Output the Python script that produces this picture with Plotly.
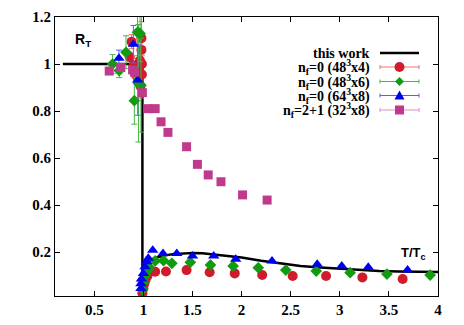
import plotly.graph_objects as go

# ---- data ----
line_x = [0.18, 0.99, 0.99, 0.995, 1.0, 1.01, 1.03, 1.06, 1.1, 1.2, 1.3, 1.4, 1.5, 1.6, 1.7, 1.8,
          2.0, 2.2, 2.4, 2.6, 2.8, 3.0, 3.2, 3.4, 3.6, 3.8, 4.0]
line_y = [1.0, 1.0, 0.01, 0.04, 0.08, 0.12, 0.145, 0.16, 0.172, 0.184, 0.191, 0.195, 0.196, 0.195,
          0.191, 0.186, 0.177, 0.163, 0.150, 0.140, 0.134, 0.128, 0.123, 0.119, 0.117, 0.116, 0.115]

red_x = [0.86, 0.88, 0.90, 0.93, 0.95, 0.965, 0.97, 0.98, 0.98, 0.985, 0.985,
         0.99, 1.0, 1.01, 1.02, 1.04, 1.12, 1.23, 1.44, 1.675, 1.93, 2.21, 2.52, 2.86, 3.23, 3.64]
red_y = [1.03, 1.095, 0.995, 0.95, 0.975, 1.015, 0.905, 1.11, 1.06, 1.0, 0.955,
         0.025, 0.045, 0.065, 0.08, 0.097, 0.116, 0.117, 0.123, 0.114, 0.109, 0.102, 0.098, 0.098, 0.092, 0.085]
red_e = [0.02, 0.03, 0.03, 0.02, 0.03, 0.04, 0.05, 0.15, 0.12, 0.1, 0.08,
         0.005, 0.005, 0.005, 0.005, 0.005, 0.004, 0.004, 0.004, 0.003, 0.003, 0.003, 0.003, 0.003, 0.003, 0.003]

green_x = [0.686, 0.754, 0.823, 0.908, 0.94, 0.95, 0.966, 0.975,
           0.99, 1.0, 1.02, 1.04, 1.06, 1.12, 1.205, 1.29, 1.478, 1.683, 1.914, 2.17, 2.45, 2.76, 3.105, 3.48, 3.92]
green_y = [1.0, 0.972, 1.05, 0.844, 1.135, 0.918, 1.13, 0.91,
           0.04, 0.07, 0.10, 0.12, 0.135, 0.162, 0.163, 0.152, 0.156, 0.145, 0.140, 0.133, 0.123, 0.119, 0.112, 0.106, 0.102]
green_e = [0.04, 0.03, 0.07, 0.1, 0.1, 0.25, 0.12, 0.2,
           0.005, 0.005, 0.005, 0.005, 0.005, 0.004, 0.004, 0.004, 0.004, 0.003, 0.003, 0.003, 0.003, 0.003, 0.003, 0.003, 0.003]

blue_x = [0.751, 0.898, 0.942,
          0.975, 0.975, 0.98, 1.0, 1.017, 1.034, 1.05, 1.095, 1.2, 1.34, 1.5, 1.716, 1.94, 2.31, 2.77, 3.02, 3.29, 3.69]
blue_y = [1.024, 1.084, 0.932,
          0.045, 0.065, 0.085, 0.109, 0.137, 0.159, 0.173, 0.207, 0.194, 0.194, 0.183, 0.183, 0.169, 0.162, 0.148, 0.140, 0.135, 0.123]
blue_e = [0.035, 0.08, 0.15,
          0.005, 0.005, 0.005, 0.005, 0.005, 0.005, 0.005, 0.004, 0.004, 0.004, 0.004, 0.003, 0.003, 0.003, 0.003, 0.003, 0.003, 0.003]

mag_x = [0.652, 0.77, 0.89, 0.91, 0.99, 1.046, 1.12, 1.18, 1.25, 1.44, 1.55, 1.66, 1.79, 2.01, 2.26]
mag_y = [0.970, 0.985, 0.975, 0.965, 0.878, 0.81, 0.81, 0.754, 0.709, 0.648, 0.573, 0.528, 0.499, 0.443, 0.421]
mag_e = [0.01] * len(mag_x)

x_ticks = [0.5, 1, 1.5, 2, 2.5, 3, 3.5, 4]
y_ticks = [0.2, 0.4, 0.6, 0.8, 1.0, 1.2]

legend_labels = ["this work",
                 "n<sub>f</sub>=0 (48<sup>3</sup>x4)",
                 "n<sub>f</sub>=0 (48<sup>3</sup>x6)",
                 "n<sub>f</sub>=0 (64<sup>3</sup>x8)",
                 "n<sub>f</sub>=2+1 (32<sup>3</sup>x8)"]

# ---- styles ----
RED, RED_E = "#d01c2a", "#e87070"
GREEN, GREEN_E = "#139a13", "#44b844"
BLUE, BLUE_E = "#0000f0", "#5a5aff"
MAG, MAG_E = "#c03a8c", "#dc90c0"

fig = go.Figure()
fig.add_trace(go.Scatter(x=line_x, y=line_y, mode="lines", line=dict(color="black", width=2.5),
                         showlegend=False))

def pts(x, y, e, color, ecolor, symbol, size):
    return go.Scatter(x=x, y=y, mode="markers",
                      marker=dict(color=color, symbol=symbol, size=size, line=dict(width=0)),
                      error_y=dict(type="data", array=e, color=ecolor, thickness=1, width=3),
                      showlegend=False, cliponaxis=True)

fig.add_trace(pts(red_x, red_y, red_e, RED, RED_E, "circle", 10))
fig.add_trace(pts(green_x, green_y, green_e, GREEN, GREEN_E, "diamond", 9))
fig.add_trace(pts(blue_x, blue_y, blue_e, BLUE, BLUE_E, "triangle-up", 10))
fig.add_trace(pts(mag_x, mag_y, mag_e, MAG, MAG_E, "square", 9))

# ---- layout geometry ----
W, H = 464, 325
L, R, T, B = 55, 26, 17, 29
pw, ph = W - L - R, H - T - B

def px(xpix):
    return (xpix - L) / pw

def py(ypix):
    return (H - B - ypix) / ph

tickfont = dict(family="Liberation Serif", size=15, color="black", weight="bold")

fig.update_layout(
    width=W, height=H, margin=dict(l=L, r=R, t=T, b=B, autoexpand=False),
    paper_bgcolor="white", plot_bgcolor="white",
    xaxis=dict(range=[0.1, 4], tickvals=x_ticks, ticks="inside", ticklen=5, tickcolor="black",
               showline=True, linecolor="black", linewidth=1, mirror="ticks", automargin=False,
               showgrid=False, zeroline=False, tickfont=tickfont),
    yaxis=dict(range=[0.0128, 1.2], tickvals=y_ticks, ticks="inside", ticklen=5, tickcolor="black",
               showline=True, linecolor="black", linewidth=1, mirror="ticks", automargin=False,
               showgrid=False, zeroline=False, tickfont=tickfont),
    showlegend=False,
)

annots = []
shapes = []
annots.append(dict(text="R<sub>T</sub>", x=px(73), y=py(40), xref="paper", yref="paper",
                   xanchor="left", yanchor="middle", showarrow=False,
                   font=dict(family="Liberation Sans", size=14, color="black", weight="bold")))
annots.append(dict(text="T/T<sub>c</sub>", x=px(399), y=py(253), xref="paper", yref="paper",
                   xanchor="left", yanchor="middle", showarrow=False,
                   font=dict(family="Liberation Sans", size=13, color="black", weight="bold")))

rows = [53, 67, 81.5, 95.5, 110]
txt_right = 372
s0, s1, sc = 380, 419, 399.5
lfont = dict(family="Liberation Serif", size=14, color="black", weight="bold")
for lbl, yy in zip(legend_labels, rows):
    annots.append(dict(text=lbl, x=px(txt_right), y=py(yy), xref="paper", yref="paper",
                       xanchor="right", yanchor="middle", showarrow=False, font=lfont))

# legend keys
shapes.append(dict(type="line", xref="paper", yref="paper", x0=px(s0), x1=px(s1),
                   y0=py(rows[0]), y1=py(rows[0]), line=dict(color="black", width=2.5)))
key_styles = [(RED, RED_E, "circle"), (GREEN, GREEN_E, "diamond"),
              (BLUE, BLUE_E, "triangle"), (MAG, MAG_E, "square")]
for (c, ec, sym), yy in zip(key_styles, rows[1:]):
    shapes.append(dict(type="line", xref="paper", yref="paper", x0=px(s0), x1=px(s1),
                       y0=py(yy), y1=py(yy), line=dict(color=ec, width=1)))
    for xe in (s0, s1):
        shapes.append(dict(type="line", xref="paper", yref="paper", x0=px(xe), x1=px(xe),
                           y0=py(yy - 2), y1=py(yy + 2), line=dict(color=ec, width=1)))
    base = dict(xref="paper", yref="paper", xsizemode="pixel", ysizemode="pixel",
                xanchor=px(sc), yanchor=py(yy), fillcolor=c, line=dict(width=0))
    if sym == "circle":
        shapes.append(dict(type="circle", x0=-5, x1=5, y0=-5, y1=5, **base))
    elif sym == "diamond":
        shapes.append(dict(type="path", path="M -4.5 0 L 0 4.5 L 4.5 0 L 0 -4.5 Z", **base))
    elif sym == "triangle":
        shapes.append(dict(type="path", path="M -5 -4 L 5 -4 L 0 5 Z", **base))
    else:
        shapes.append(dict(type="rect", x0=-4.5, x1=4.5, y0=-4.5, y1=4.5, **base))

fig.update_layout(annotations=annots, shapes=shapes)
fig.write_html("out.html", config={"displayModeBar": False},
               post_script="document.body.style.margin='0';")
